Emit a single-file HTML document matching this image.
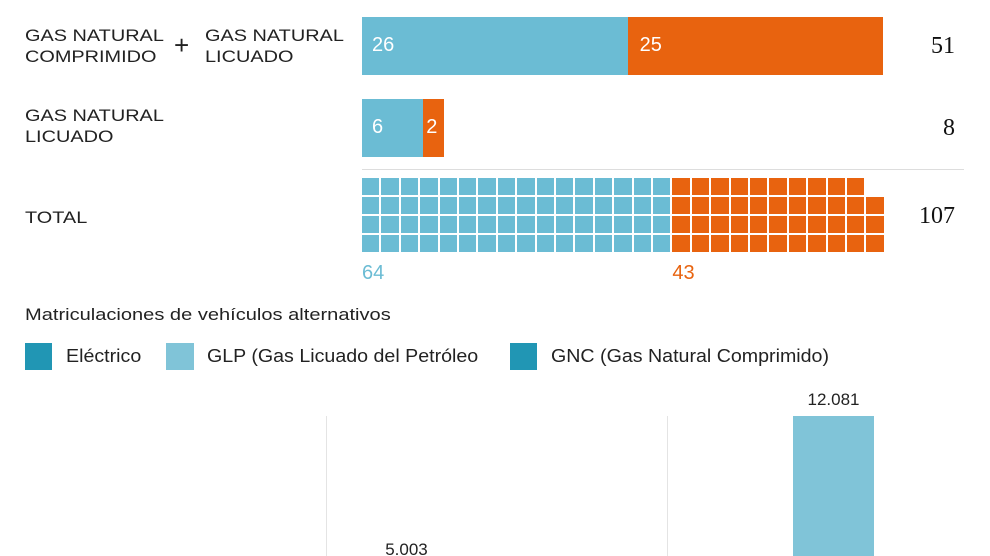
<!DOCTYPE html>
<html><head><meta charset="utf-8">
<style>
html,body{margin:0;width:990px;height:556px;overflow:hidden;background:#fff;font-family:"Liberation Sans",Arial,sans-serif;position:relative}
.a{position:absolute}
.lbl{font-size:17px;color:#222;line-height:21px;transform:scaleX(1.17);transform-origin:left top}
.tot{font-family:"Liberation Serif",serif;font-size:24px;color:#111}
.in{color:#fff;font-size:20px}
.lg{font-size:18px;color:#222;transform:scaleX(1.09);transform-origin:left top}
#root{position:absolute;left:0;top:0;width:990px;height:556px;overflow:hidden}
</style></head><body>
<div id="root">
<div class="a lbl" style="left:25px;top:25px">GAS NATURAL<br>COMPRIMIDO</div>
<div class="a" style="left:174px;top:30px;font-size:26px;color:#222">+</div>
<div class="a lbl" style="left:205px;top:25px">GAS NATURAL<br>LICUADO</div>
<div class="a lbl" style="left:25px;top:105px">GAS NATURAL<br>LICUADO</div>
<div class="a" style="left:362px;top:169px;width:602px;height:1px;background:#ddd"></div>
<div class="a lbl" style="left:25px;top:207px">TOTAL</div>
<div class="a" style="left:25px;top:305px;font-size:17px;color:#222;transform:scaleX(1.18);transform-origin:left top">Matriculaciones de vehículos alternativos</div>
<div class="a" style="left:25px;top:343px;width:27px;height:27px;background:#2196b4"></div>
<div class="a lg" style="left:66px;top:346px">Eléctrico</div>
<div class="a" style="left:166px;top:343px;width:28px;height:27px;background:#80c4d8"></div>
<div class="a lg" style="left:207px;top:346px">GLP (Gas Licuado del Petróleo</div>
<div class="a" style="left:510px;top:343px;width:27px;height:27px;background:#2196b4"></div>
<div class="a lg" style="left:551px;top:346px">GNC (Gas Natural Comprimido)</div>
</div>
<script>
const stackRows=["GNC + GNL","GNL"];
const blueVals=[26,6];
const orangeVals=[25,2];
const totalBlue=64, totalOrange=43;
const bottomValues=[5003,12081];
const bottomLabels=["5.003","12.081"];
const root=document.getElementById('root');
function mk(css,name,txt,cls){const d=document.createElement('div');d.className='a '+(cls||'');d.style.cssText=css;


if(txt!=null)d.textContent=txt;root.appendChild(d);return d;}
const x0=362,unit=521/51;
const xs=v=>v*unit;
const rowY=[17,99];
stackRows.forEach((r,i)=>{
 const b=blueVals[i],o=orangeVals[i],y=rowY[i];
 mk(`left:${x0}px;top:${y}px;width:${xs(b)}px;height:58px;background:#6bbcd4`,'bar-blue-'+i);
 mk(`left:${x0+xs(b)}px;top:${y}px;width:${xs(o)}px;height:58px;background:#e8630f`,'bar-orange-'+i);
 mk(`left:${x0+10}px;top:${y+17}px`,'bar-blue-value-'+i,String(b),'in');
 mk(`left:${x0+xs(b)+(o>5?12:3)}px;top:${y+17}px`,'bar-orange-value-'+i,String(o),'in');
 mk(`right:35px;top:${y+16}px`,'row-total-'+i,String(b+o),'tot');
});
const cw=19.4,ch=19,rows=4,wy=178;
function cell(k,color,offset,name){const col=Math.floor(k/rows);const r=rows-1-(k%rows);
 mk(`left:${x0+(offset+col)*cw}px;top:${wy+r*ch}px;width:${cw-2}px;height:${ch-2}px;background:${color}`,name);}
for(let k=0;k<totalBlue;k++)cell(k,'#6bbcd4',0,'waffle-blue-'+k);
const bcols=Math.ceil(totalBlue/rows);
for(let k=0;k<totalOrange;k++)cell(k,'#e8630f',bcols,'waffle-orange-'+k);
mk(`right:35px;top:203px`,'waffle-total',String(totalBlue+totalOrange),'tot');
mk(`left:${x0}px;top:262px;font-size:20px;color:#6bbcd4`,'waffle-blue-label',String(totalBlue));
mk(`left:${x0+bcols*cw}px;top:262px;font-size:20px;color:#e8630f`,'waffle-orange-label',String(totalOrange));
const base=672,sc=256/12081,clipY=556;
const ys=v=>base-v*sc;
mk(`left:326px;top:416px;width:1px;height:140px;background:#e4e4e4`,'gridline-1');
mk(`left:667px;top:416px;width:1px;height:140px;background:#e4e4e4`,'gridline-2');
const bx=[366,793];
bottomValues.forEach((v,i)=>{
 const top=ys(v);
 const h=Math.max(0,Math.min(base,clipY)-top);
 mk(`left:${bx[i]}px;top:${Math.min(top,clipY)}px;width:81px;height:${h}px;background:#80c4d8`,'bottom-bar-'+i);
 mk(`left:${bx[i]-10}px;width:101px;text-align:center;top:${top-26}px;font-size:17px;line-height:20px;color:#222`,'bottom-bar-value-'+i,bottomLabels[i]);
});
</script>
</body></html>
